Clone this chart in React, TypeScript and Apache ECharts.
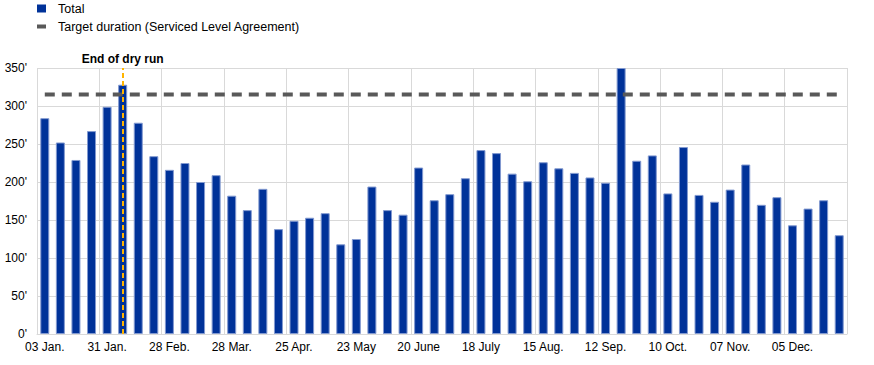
import React, { useEffect, useRef } from "react";
import * as echarts from "echarts";

const categories: string[] = [
  "03 Jan.", "10 Jan.", "17 Jan.", "24 Jan.", "31 Jan.",
  "07 Feb.", "14 Feb.", "21 Feb.", "28 Feb.",
  "07 Mar.", "14 Mar.", "21 Mar.", "28 Mar.",
  "04 Apr.", "11 Apr.", "18 Apr.", "25 Apr.",
  "02 May", "09 May", "16 May", "23 May", "30 May",
  "06 June", "13 June", "20 June", "27 June",
  "04 July", "11 July", "18 July", "25 July",
  "01 Aug.", "08 Aug.", "15 Aug.", "22 Aug.", "29 Aug.",
  "05 Sep.", "12 Sep.", "19 Sep.", "26 Sep.",
  "03 Oct.", "10 Oct.", "17 Oct.", "24 Oct.", "31 Oct.",
  "07 Nov.", "14 Nov.", "21 Nov.", "28 Nov.",
  "05 Dec.", "12 Dec.", "19 Dec.", "26 Dec.",
];

const totalValues: number[] = [
  284, 252, 229, 267, 299, 328, 278, 234, 216, 225, 200, 209, 182,
  163, 191, 138, 149, 153, 159, 118, 125, 194, 163, 157, 219, 176,
  184, 205, 242, 238, 211, 201, 226, 218, 212, 206, 199, 350, 228,
  235, 185, 246, 183, 174, 190, 223, 170, 180, 143, 165, 176, 130,
];

const targetValue = 315;
const dryRunEndCategory = "07 Feb.";

const seriesNames = ["Total", "Target duration (Serviced Level Agreement)"];
const yTicks = { min: 0, max: 350, interval: 50 };

const FONT = 'Arial, "Liberation Sans", sans-serif';

export default function App() {
  const ref = useRef<HTMLDivElement>(null);

  useEffect(() => {
    if (!ref.current) return;
    const chart = echarts.init(ref.current, null, { renderer: "svg" });
    chart.setOption({
      animation: false,
      textStyle: { fontFamily: FONT },
      legend: {
        orient: "vertical",
        left: 37,
        top: 2,
        padding: 0,
        itemGap: 5,
        itemWidth: 9,
        itemHeight: 8,
        selectedMode: false,
        itemStyle: { borderWidth: 0 },
        lineStyle: { width: 0, type: "solid" },
        textStyle: { fontFamily: FONT, fontSize: 12.5, color: "#000", padding: [0, 0, 0, 7] },
        data: [
          { name: seriesNames[0], icon: "rect", itemStyle: { color: "#003299", borderWidth: 0 } },
          {
            name: seriesNames[1],
            icon: "path://M0,0h9v4h-9z",
            itemStyle: { color: "#595959", borderWidth: 0 },
            lineStyle: { width: 0, type: "solid" },
          },
        ],
      },
      grid: { left: 37, right: 27, top: 68, bottom: 31, containLabel: false },
      xAxis: {
        type: "category",
        data: categories,
        boundaryGap: true,
        axisLine: { show: true, lineStyle: { color: "#d9d9d9", width: 1 } },
        axisTick: { show: false },
        axisLabel: {
          interval: 3,
          margin: 7,
          fontSize: 12,
          color: "#000",
          fontFamily: FONT,
        },
        splitLine: { show: true, interval: 3, lineStyle: { color: "#d9d9d9", width: 1 } },
      },
      yAxis: {
        type: "value",
        min: yTicks.min,
        max: yTicks.max,
        interval: yTicks.interval,
        axisLine: { show: false },
        axisTick: { show: false },
        axisLabel: {
          formatter: (v: number) => `${v}'`,
          margin: 10,
          fontSize: 12,
          color: "#000",
          fontFamily: FONT,
        },
        splitLine: { show: true, lineStyle: { color: "#d9d9d9", width: 1 } },
      },
      series: [
        {
          name: seriesNames[0],
          type: "bar",
          data: totalValues,
          barWidth: 9,
          clip: true,
          itemStyle: { color: "#003299", borderColor: "#8299d0", borderWidth: 1 },
          z: 2,
        },
        {
          name: seriesNames[1],
          type: "line",
          data: [
            [categories[0], targetValue],
            [categories[categories.length - 1], targetValue],
          ],
          symbol: "none",
          lineStyle: { color: "#595959", width: 4, type: [10, 7] },
          itemStyle: { color: "#595959" },
          z: 3,
          markLine: {
            silent: true,
            symbol: "none",
            lineStyle: { color: "#ffb400", width: 2, type: [5, 3] },
            label: {
              show: true,
              position: "end",
              formatter: "End of dry run",
              fontWeight: "bold",
              fontSize: 12,
              color: "#000",
              fontFamily: FONT,
              distance: 3,
            },
            data: [{ xAxis: dryRunEndCategory }],
          },
        },
      ],
    });
    return () => chart.dispose();
  }, []);

  return (
    <div
      ref={ref}
      style={{ position: "absolute", left: 0, top: 0, width: 874, height: 365 }}
    />
  );
}
